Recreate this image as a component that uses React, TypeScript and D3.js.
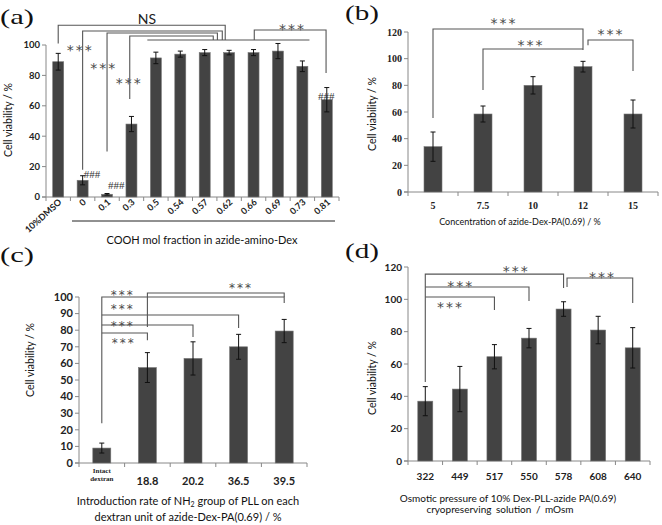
import React, { useEffect, useRef } from 'react';
import * as d3 from 'd3';

// ---- panel (a) ----
const catsA = ['10%DMSO', '0', '0.1', '0.3', '0.5', '0.54', '0.57', '0.62', '0.66', '0.69', '0.73', '0.81'];
const valsA = [89, 11, 1.8, 48, 91.5, 94, 95, 95, 95, 96, 86, 64];
const errsA = [5.5, 3, 0.5, 5, 3.8, 2, 2, 1.5, 2, 5, 3.5, 8];
const ticksA = [0, 20, 40, 60, 80, 100];

// ---- panel (b) ----
const catsB = ['5', '7.5', '10', '12', '15'];
const valsB = [34, 58.5, 80, 94, 58.5];
const errsB = [11, 6, 6.5, 4, 10.5];
const ticksB = [0, 20, 40, 60, 80, 100, 120];

// ---- panel (c) ----
const catsC = ['Intact', '18.8', '20.2', '36.5', '39.5'];
const valsC = [9, 57.5, 63, 70, 79.5];
const errsC = [3, 9, 10, 7.5, 7];
const ticksC = [0, 10, 20, 30, 40, 50, 60, 70, 80, 90, 100];

// ---- panel (d) ----
const catsD = ['322', '449', '517', '550', '578', '608', '640'];
const valsD = [37, 44.5, 64.5, 76, 94, 81, 70];
const errsD = [9, 14, 7.5, 6, 4.5, 8.5, 12.5];
const ticksD = [0, 20, 40, 60, 80, 100, 120];

// brackets: list of [categoryIndex, value] points (index may be fractional)
type Pt = [number, number];

const bracketsA: Pt[][] = [
  [[0, 101], [0, 113], [6.84, 113], [6.84, 103.3]],
  [[1, 18], [1, 109.2], [6.72, 109.2], [6.72, 103.3]],
  [[2, 30], [2, 107.9], [6.52, 107.9], [6.52, 103.3]],
  [[2.93, 64.5], [2.93, 105.9], [6.35, 105.9], [6.35, 103.3]],
  [[3.65, 103.3], [10.29, 103.3]],
  [[8.03, 103.3], [8.03, 109.9], [10.97, 109.9], [10.97, 81.6]],
];
const starsA: Pt[] = [[0.86, 98.5], [1.82, 86.8], [2.87, 77], [9.55, 112.5]];
const hashA: Pt[] = [[1.38, 15], [2.38, 7.9], [10.98, 66.4]];

const bracketsB: Pt[][] = [
  [[0, 55.5], [0, 122.3], [3, 122.3], [3, 106.5]],
  [[1, 76.5], [1, 107.3], [3, 107.3]],
  [[3.1, 110], [3.1, 114], [4, 114], [4, 90.8]],
];
const starsB: Pt[] = [[1.4, 129], [1.94, 111.8], [3.54, 120.5]];

const bracketsC: Pt[][] = [
  [[0, 24], [0, 100], [4, 100], [4, 96.4]],
  [[0, 89.2], [3, 89.2], [3, 81.3]],
  [[0, 83.1], [2, 83.1], [2, 75.9]],
  [[0, 78.3], [1, 78.3], [1, 74]],
  [[1, 81.9], [1, 102.4], [4, 102.4], [4, 100]],
];
const starsC: Pt[] = [[0.44, 102.4], [0.44, 94], [0.44, 84.3], [0.46, 74], [3.03, 106.8]];

const bracketsD: Pt[][] = [
  [[0, 48.9], [0, 115.6], [4, 115.6], [4, 107]],
  [[0, 107.6], [3, 107.6], [3, 99]],
  [[0, 101.4], [2, 101.4], [2, 93.4]],
  [[4.1, 107.6], [4.1, 113.2], [6, 113.2], [6, 97.7]],
];
const starsD: Pt[] = [[2.6, 119.4], [1.0, 110], [0.7, 97], [5.1, 115.6]];

const SANS = 'Lato, "Open Sans", sans-serif';
const SERIF = '"Liberation Serif", "DejaVu Serif", serif';
const BAR = '#434343';
const LINE = '#555';

interface PanelCfg {
  cats: string[];
  vals: number[];
  errs: number[];
  ticks: number[];
  xRange: [number, number];
  yRange: [number, number]; // [bottom, top] px
  yMax: number;
  barW: number;
  tickFont: string;
  tickSize: number;
  brackets: Pt[][];
  stars: Pt[];
  starSize?: number;
}

const App: React.FC = () => {
  const svgRef = useRef<SVGSVGElement>(null);

  useEffect(() => {
    const svg = d3.select(svgRef.current);
    svg.selectAll('*').remove();

    const drawPanel = (cfg: PanelCfg) => {
      const g = svg.append('g');
      const x = d3.scaleBand().domain(cfg.cats).range(cfg.xRange).padding(0);
      const y = d3.scaleLinear().domain([0, cfg.yMax]).range(cfg.yRange);
      const step = x.step();
      const cx = (i: number) => cfg.xRange[0] + step * (i + 0.5);

      // y axis
      g.append('line')
        .attr('x1', cfg.xRange[0]).attr('x2', cfg.xRange[0])
        .attr('y1', y(0)).attr('y2', y(cfg.yMax))
        .attr('stroke', '#888').attr('stroke-width', 1);
      cfg.ticks.forEach(t => {
        g.append('line')
          .attr('x1', cfg.xRange[0] - 4).attr('x2', cfg.xRange[0])
          .attr('y1', y(t)).attr('y2', y(t))
          .attr('stroke', '#888');
        g.append('text')
          .attr('x', cfg.xRange[0] - 6)
          .attr('y', y(t))
          .attr('dy', '0.35em')
          .attr('text-anchor', 'end')
          .style('font-family', cfg.tickFont)
          .style('font-size', `${cfg.tickSize}px`)
          .style('font-weight', 'bold')
          .style('fill', '#222')
          .text(t);
      });

      // x axis
      g.append('line')
        .attr('x1', cfg.xRange[0] - 4).attr('x2', cfg.xRange[1])
        .attr('y1', y(0)).attr('y2', y(0))
        .attr('stroke', '#888');
      [...cfg.cats.map(c => x(c) as number), cfg.xRange[1]].forEach(px => {
        g.append('line')
          .attr('x1', px).attr('x2', px)
          .attr('y1', y(0)).attr('y2', y(0) + 4)
          .attr('stroke', '#888');
      });

      // bars
      g.selectAll('.bar')
        .data(cfg.vals)
        .enter()
        .append('rect')
        .attr('x', (_, i) => (x(cfg.cats[i]) as number) + (step - cfg.barW) / 2)
        .attr('y', d => y(d))
        .attr('width', cfg.barW)
        .attr('height', d => y(0) - y(d))
        .style('fill', BAR)
        .style('stroke', '#777')
        .style('stroke-width', 0.6);

      // error bars
      cfg.vals.forEach((v, i) => {
        const e = cfg.errs[i];
        const c = cx(i);
        g.append('line').attr('x1', c).attr('x2', c).attr('y1', y(v - e)).attr('y2', y(v + e))
          .attr('stroke', '#111').attr('stroke-width', 1);
        [v - e, v + e].forEach(w => {
          g.append('line').attr('x1', c - 2.5).attr('x2', c + 2.5).attr('y1', y(w)).attr('y2', y(w))
            .attr('stroke', '#111').attr('stroke-width', 1);
        });
      });

      // brackets
      const line = d3.line<Pt>().x(p => cx(p[0])).y(p => y(p[1]));
      cfg.brackets.forEach(b => {
        g.append('path')
          .attr('d', line(b))
          .attr('fill', 'none')
          .attr('stroke', LINE)
          .attr('stroke-width', 1.1);
      });

      const ss = cfg.starSize ?? 14;
      cfg.stars.forEach(s => {
        g.append('text')
          .attr('x', cx(s[0]) + 1)
          .attr('y', y(s[1]) + ss * 0.54)
          .attr('text-anchor', 'middle')
          .style('font-family', '"DejaVu Sans", sans-serif')
          .style('font-size', `${ss}px`)
          .style('letter-spacing', '2px')
          .style('fill', '#4a4a4a')
          .text('***');
      });

      return { x, y, cx };
    };

    const yTitle = (px: number, py: number, size: number) => {
      svg.append('text')
        .attr('transform', `translate(${px},${py}) rotate(-90)`)
        .attr('text-anchor', 'middle')
        .attr('dy', '0.35em')
        .style('font-family', SANS)
        .style('font-size', `${size}px`)
        .style('fill', '#111')
        .text('Cell viability / %');
    };

    const label = (t: string, px: number, py: number) => {
      svg.append('text')
        .attr('x', px).attr('y', py)
        .attr('textLength', 34)
        .attr('lengthAdjust', 'spacingAndGlyphs')
        .style('font-family', SERIF)
        .style('font-size', '22px')
        .style('fill', '#111')
        .text(t);
    };

    // ---------- (a) ----------
    const pa = drawPanel({
      cats: catsA, vals: valsA, errs: errsA, ticks: ticksA,
      xRange: [46, 339], yRange: [197, 45], yMax: 100, barW: 11,
      tickFont: SANS, tickSize: 9.5, brackets: bracketsA, stars: starsA,
    });
    catsA.forEach((c, i) => {
      svg.append('text')
        .attr('transform', `translate(${pa.cx(i) + 4},${203}) rotate(-42)`)
        .attr('text-anchor', 'end')
        .style('font-family', SANS)
        .style('font-size', '9px')
        .style('font-weight', 'bold')
        .style('fill', '#222')
        .text(c);
    });
    hashA.forEach(h => {
      svg.append('text')
        .attr('x', pa.cx(h[0])).attr('y', pa.y(h[1]))
        .attr('dy', '0.35em')
        .attr('text-anchor', 'middle')
        .style('font-family', SERIF)
        .style('font-size', '11px')
        .style('fill', '#333')
        .text('###');
    });
    svg.append('text').attr('x', 147).attr('y', 19).attr('dy', '0.35em')
      .attr('text-anchor', 'middle')
      .style('font-family', SANS).style('font-size', '14px').style('fill', '#222')
      .text('NS');
    svg.append('line').attr('x1', 72).attr('x2', 335).attr('y1', 221).attr('y2', 221)
      .attr('stroke', '#222').attr('stroke-width', 1);
    svg.append('text').attr('x', 202).attr('y', 240).attr('dy', '0.35em')
      .attr('text-anchor', 'middle')
      .style('font-family', SANS).style('font-size', '11px').style('fill', '#111')
      .text('COOH mol fraction in azide-amino-Dex');
    yTitle(8, 120, 10.5);
    label('(a)', 0, 24);

    // ---------- (b) ----------
    const pb = drawPanel({
      cats: catsB, vals: valsB, errs: errsB, ticks: ticksB,
      xRange: [408, 658], yRange: [192, 32], yMax: 120, barW: 18,
      tickFont: SERIF, tickSize: 10, brackets: bracketsB, stars: starsB,
    });
    catsB.forEach((c, i) => {
      svg.append('text')
        .attr('x', pb.cx(i)).attr('y', 205).attr('dy', '0.35em')
        .attr('text-anchor', 'middle')
        .style('font-family', SERIF).style('font-size', '10px').style('font-weight', 'bold')
        .style('fill', '#222')
        .text(c);
    });
    svg.append('text').attr('x', 520).attr('y', 222).attr('dy', '0.35em')
      .attr('text-anchor', 'middle')
      .style('font-family', SANS).style('font-size', '9px').style('fill', '#111')
      .text('Concentration of azide-Dex-PA(0.69) / %');
    yTitle(372, 114, 10.5);
    label('(b)', 345, 20);

    // ---------- (c) ----------
    const pc = drawPanel({
      cats: catsC, vals: valsC, errs: errsC, ticks: ticksC,
      xRange: [79, 307], yRange: [463, 297], yMax: 100, barW: 18,
      tickFont: SANS, tickSize: 11, brackets: bracketsC, stars: starsC, starSize: 12,
    });
    catsC.forEach((c, i) => {
      if (i === 0) {
        ['Intact', 'dextran'].forEach((t, k) => {
          svg.append('text')
            .attr('x', pc.cx(0)).attr('y', 471 + k * 8).attr('dy', '0.35em')
            .attr('text-anchor', 'middle')
            .style('font-family', SERIF).style('font-size', '7px').style('font-weight', 'bold')
            .style('fill', '#222')
            .text(t);
        });
      } else {
        svg.append('text')
          .attr('x', pc.cx(i)).attr('y', 481).attr('dy', '0.35em')
          .attr('text-anchor', 'middle')
          .style('font-family', SANS).style('font-size', '11px').style('font-weight', 'bold')
          .style('fill', '#222')
          .text(c);
      }
    });
    const tc = svg.append('text').attr('x', 188).attr('y', 501).attr('dy', '0.35em')
      .attr('text-anchor', 'middle')
      .style('font-family', SANS).style('font-size', '11px').style('fill', '#111');
    tc.append('tspan').text('Introduction rate of NH');
    tc.append('tspan').attr('dy', '2').style('font-size', '7px').text('2');
    tc.append('tspan').attr('dy', '-2').text(' group of PLL on each');
    svg.append('text').attr('x', 188).attr('y', 517).attr('dy', '0.35em')
      .attr('text-anchor', 'middle')
      .style('font-family', SANS).style('font-size', '11px').style('fill', '#111')
      .text('dextran unit of azide-Dex-PA(0.69) / %');
    yTitle(30, 360, 10.5);
    label('(c)', 0, 262);

    // ---------- (d) ----------
    const pd = drawPanel({
      cats: catsD, vals: valsD, errs: errsD, ticks: ticksD,
      xRange: [408, 650], yRange: [461, 267], yMax: 120, barW: 15,
      tickFont: SANS, tickSize: 10, brackets: bracketsD, stars: starsD,
    });
    catsD.forEach((c, i) => {
      svg.append('text')
        .attr('x', pd.cx(i)).attr('y', 476).attr('dy', '0.35em')
        .attr('text-anchor', 'middle')
        .style('font-family', SANS).style('font-size', '10px').style('font-weight', 'bold')
        .style('fill', '#222')
        .text(c);
    });
    svg.append('text').attr('x', 508).attr('y', 498).attr('dy', '0.35em')
      .attr('text-anchor', 'middle')
      .style('font-family', SANS).style('font-size', '10px').style('fill', '#111')
      .text('Osmotic pressure of 10% Dex-PLL-azide PA(0.69)');
    svg.append('text').attr('x', 500).attr('y', 509).attr('dy', '0.35em')
      .attr('text-anchor', 'middle')
      .style('font-family', SANS).style('font-size', '10px').style('fill', '#111')
      .style('word-spacing', '2px')
      .text('cryopreserving  solution  / mOsm');
    yTitle(372, 378, 10.5);
    label('(d)', 345, 258);
  }, []);

  return (
    <svg
      ref={svgRef}
      width={662}
      height={525}
      style={{ position: 'absolute', left: 0, top: 0, background: '#fff', display: 'block' }}
    />
  );
};

export default App;
